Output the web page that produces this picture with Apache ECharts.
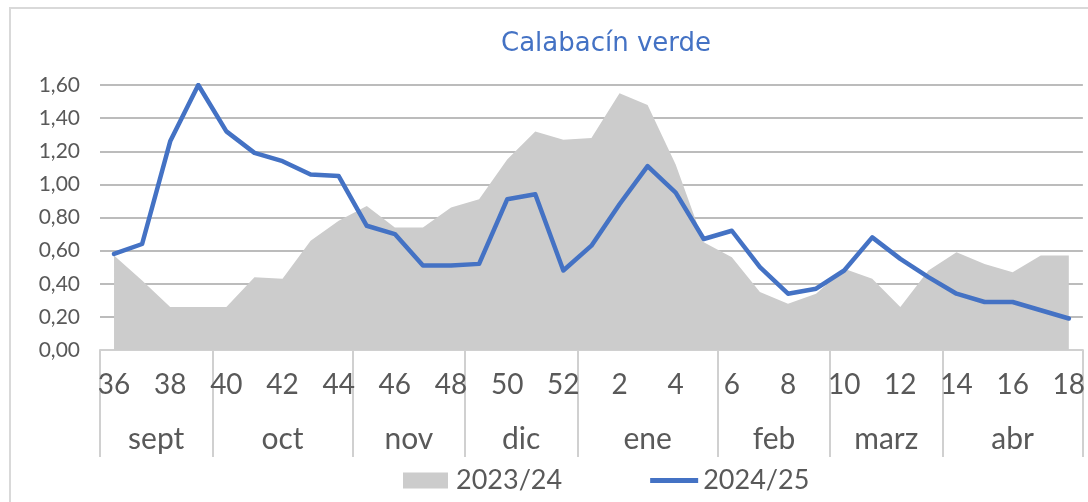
<!DOCTYPE html>
<html>
<head>
    <meta charset="utf-8">
    <title>Calabacín verde</title>
    <script src="https://cdn.jsdelivr.net/npm/echarts@6/dist/echarts.min.js"></script>
    <style>
        body { margin: 0; background: #fff; overflow: hidden; }
        #frame { position: absolute; left: 9px; top: 7px; width: 1200px; height: 600px;
                 border-left: 2px solid #d9d9d9; border-top: 2px solid #d9d9d9; }
        #demo { position: absolute; left: 0; top: 0; width: 1088px; height: 502px; }
    </style>
</head>
<body>
    <div id="frame"></div>
    <div id="demo"></div>
    <script type="text/javascript">
        // semanas de campaña (36..52, 1..18)
        var weeks = ['36','37','38','39','40','41','42','43','44','45','46','47','48','49','50','51','52',
                     '1','2','3','4','5','6','7','8','9','10','11','12','13','14','15','16','17','18'];
        var months = ['sept', 'oct', 'nov', 'dic', 'ene', 'feb', 'marz', 'abr'];
        var weeksPerMonth = [4, 5, 4, 4, 5, 4, 4, 5];
        var yTicks = [0, 0.2, 0.4, 0.6, 0.8, 1.0, 1.2, 1.4, 1.6];

        var s2324 = [0.57, 0.42, 0.26, 0.26, 0.26, 0.44, 0.43, 0.66, 0.78, 0.87, 0.74, 0.74, 0.86, 0.91, 1.15, 1.32, 1.27,
                     1.28, 1.55, 1.48, 1.12, 0.65, 0.56, 0.35, 0.28, 0.34, 0.49, 0.43, 0.26, 0.48, 0.59, 0.52, 0.47, 0.57, 0.57];
        var s2425 = [0.58, 0.64, 1.26, 1.60, 1.32, 1.19, 1.14, 1.06, 1.05, 0.75, 0.70, 0.51, 0.51, 0.52, 0.91, 0.94, 0.48,
                     0.63, 0.88, 1.11, 0.95, 0.67, 0.72, 0.50, 0.34, 0.37, 0.48, 0.68, 0.55, 0.44, 0.34, 0.29, 0.29, 0.24, 0.19];

        // limites y centros de cada mes en indices de categoria
        var monthEdges = [-0.5], monthCenters = [];
        weeksPerMonth.forEach(function (n) {
            var start = monthEdges[monthEdges.length - 1];
            monthCenters.push(start + n / 2);
            monthEdges.push(start + n);
        });

        var txt = '#595959';
        var axisGrey = '#d0d0d0';
        var fnt = 'Lato';

        var dom = document.getElementById('demo');
        var chart = echarts.init(dom);

        var option = {
            animation: false,
            title: {
                text: 'Calabacín verde',
                left: 601,
                top: 26,
                textAlign: 'center',
                textStyle: { color: '#4472c4', fontFamily: 'DejaVu Sans', fontSize: 26, fontWeight: 'normal' }
            },
            legend: {
                left: 403,
                top: 467,
                padding: 0,
                itemWidth: 48,
                itemHeight: 16,
                itemGap: 88,
                textStyle: { color: txt, fontFamily: fnt, fontSize: 27 },
                data: [
                    // rectangulo con margen invisible a la derecha
                    { name: '2023/24', icon: 'path://M0,0 L0.01,0 M0,0 L45,0 L45,16 L0,16 Z M48,16 L48.01,16' },
                    // linea fina: los puntos sueltos fijan la caja 0..48 x 0..16
                    { name: '2024/25', icon: 'path://M0,0 L0.01,0 M0,16 L0.01,16 M0,5.5 L48,5.5 L48,10.5 L0,10.5 Z' }
                ]
            },
            grid: { left: 100, right: 1, top: 85, bottom: 152 },
            xAxis: [
                {
                    // semanas, con marcas largas entre categorias
                    type: 'category',
                    data: weeks,
                    boundaryGap: true,
                    axisLine: { lineStyle: { color: axisGrey, width: 2 } },
                    axisTick: { interval: 0, length: 53, lineStyle: { color: axisGrey, width: 2 } },
                    axisLabel: { interval: 1, margin: 21, color: txt, fontFamily: fnt, fontSize: 28 }
                },
                {
                    // marcas cortas en el centro de cada semana
                    type: 'category',
                    data: weeks,
                    boundaryGap: true,
                    position: 'bottom',
                    axisLine: { show: false },
                    axisTick: { interval: 0, alignWithLabel: true, length: 6, lineStyle: { color: axisGrey, width: 2 } },
                    axisLabel: { show: false }
                },
                {
                    // meses
                    type: 'value',
                    min: -0.5,
                    max: weeks.length - 0.5,
                    position: 'bottom',
                    axisLine: { show: false },
                    splitLine: { show: false },
                    axisTick: { show: true, customValues: monthEdges, length: 107, lineStyle: { color: axisGrey, width: 2 } },
                    axisLabel: {
                        customValues: monthCenters,
                        margin: 74,
                        color: txt, fontFamily: fnt, fontSize: 30,
                        formatter: function (v) {
                            var i = monthCenters.indexOf(v);
                            return i >= 0 ? months[i] : '';
                        }
                    }
                }
            ],
            yAxis: {
                type: 'value',
                min: yTicks[0],
                max: yTicks[yTicks.length - 1],
                interval: 0.2,
                axisLine: { show: false },
                axisTick: { show: false },
                splitLine: { lineStyle: { color: '#a6a6a6', width: 1.5 } },
                axisLabel: {
                    margin: 20, color: txt, fontFamily: fnt, fontSize: 21,
                    formatter: function (v) { return v.toFixed(2).replace('.', ','); }
                }
            },
            series: [
                {
                    name: '2023/24',
                    type: 'line',
                    data: s2324,
                    symbol: 'none',
                    itemStyle: { color: '#cccccc' },
                    lineStyle: { width: 0 },
                    areaStyle: { color: '#cccccc', opacity: 1 }
                },
                {
                    name: '2024/25',
                    type: 'line',
                    data: s2425,
                    symbol: 'none',
                    itemStyle: { color: '#4472c4' },
                    lineStyle: { color: '#4472c4', width: 4.5, join: 'round', cap: 'round' }
                }
            ]
        };

        chart.setOption(option);
    </script>
</body>
</html>
